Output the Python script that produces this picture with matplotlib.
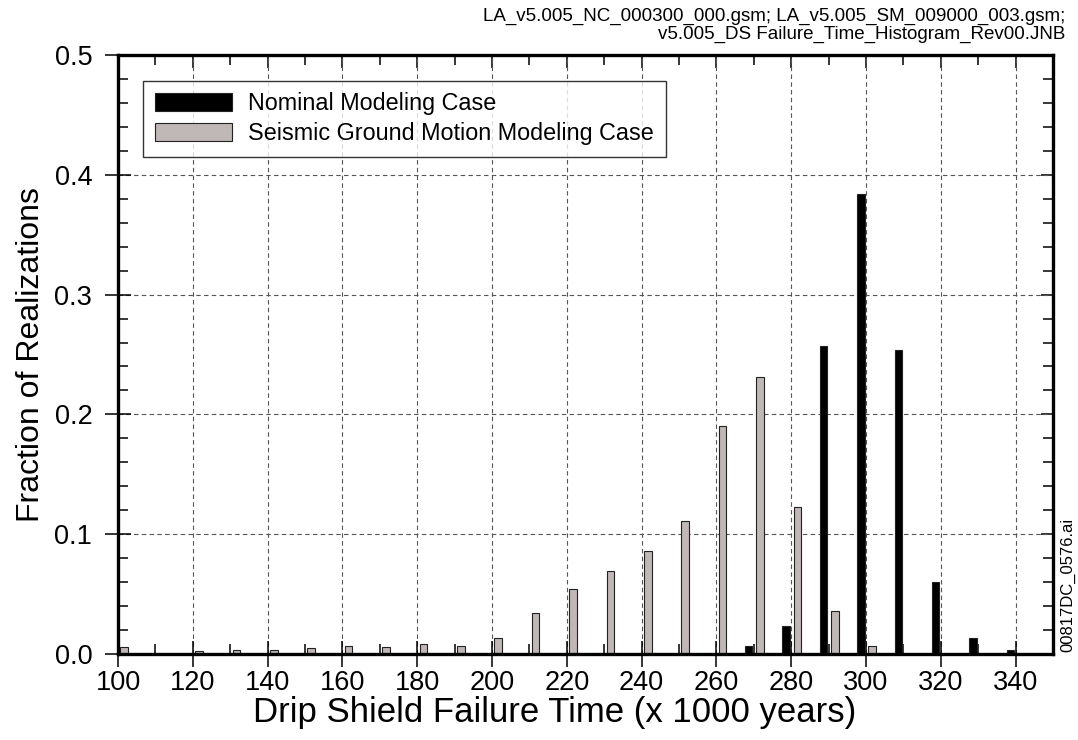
import numpy as np
import matplotlib.pyplot as plt
from matplotlib.ticker import MultipleLocator

plt.rcParams['font.family'] = ['Liberation Sans', 'DejaVu Sans']

# bin positions (x 1000 years) and fraction of realizations per case
nominal_t = [270, 280, 290, 300, 310, 320, 330, 340]
nominal_frac = [0.007, 0.0235, 0.257, 0.384, 0.254, 0.060, 0.013, 0.003]

seismic_t = [100, 110, 120, 130, 140, 150, 160, 170, 180, 190, 200,
             210, 220, 230, 240, 250, 260, 270, 280, 290, 300]
seismic_frac = [0.0056, 0.0, 0.0025, 0.0033, 0.0033, 0.0047, 0.007, 0.0056,
                0.0086, 0.0064, 0.0134, 0.034, 0.0545, 0.0695, 0.086, 0.111,
                0.190, 0.2315, 0.1224, 0.036, 0.007]

grey = '#c0b8b6'

fig = plt.figure(figsize=(10.78, 7.40), dpi=100)
ax = fig.add_axes([0.1095, 0.1162, 0.8673, 0.8095])

ax.bar(np.array(nominal_t) - 1.35, nominal_frac, width=2.0, color='black',
       edgecolor='#222222', linewidth=0.8, label='Nominal Modeling Case', zorder=3)
ax.bar(np.array(seismic_t) + 1.65, seismic_frac, width=2.0, color=grey,
       edgecolor='#222222', linewidth=0.8, label='Seismic Ground Motion Modeling Case', zorder=3)

ax.set_xlim(100, 350)
ax.set_ylim(0, 0.5)
ax.xaxis.set_minor_locator(MultipleLocator(10))
ax.yaxis.set_major_locator(MultipleLocator(0.1))
ax.yaxis.set_minor_locator(MultipleLocator(0.02))
ax.set_xticks(np.arange(100, 341, 20))
ax.yaxis.set_major_formatter(plt.FormatStrFormatter('%.1f'))

ax.grid(True, which='major', linestyle=(0, (4, 3)), color='#555555', linewidth=0.8, zorder=0)

for s in ax.spines.values():
    s.set_linewidth(2.4)
    s.set_zorder(5)

ax.tick_params(which='major', direction='inout', length=19, width=1.1,
               labelsize=19.5, pad=2, top=False, right=False)
ax.tick_params(axis='y', which='major', pad=9)
ax.tick_params(which='minor', direction='in', length=7, width=1.1,
               top=True, right=True)

# inward major ticks on top and right spines
ax_top = ax.secondary_xaxis('top')
ax_top.set_xticks(np.arange(100, 341, 20))
ax_top.tick_params(direction='in', length=9, width=1.1, labeltop=False)
ax_top.spines['top'].set_visible(False)
ax_right = ax.secondary_yaxis('right')
ax_right.set_yticks(np.arange(0, 0.51, 0.1))
ax_right.tick_params(direction='in', length=9, width=1.1, labelright=False)
ax_right.spines['right'].set_visible(False)

ax.set_xlabel('Drip Shield Failure Time (x 1000 years)', fontsize=25, labelpad=0, x=0.467)
ax.set_ylabel('Fraction of Realizations', fontsize=23, labelpad=6)

leg = ax.legend(loc='upper left', bbox_to_anchor=(0.027, 0.957), fontsize=16.8,
                frameon=True, fancybox=False, edgecolor='black',
                handlelength=3.3, handleheight=0.8, handletextpad=0.7,
                borderpad=0.5, labelspacing=0.3, borderaxespad=0)
leg.get_frame().set_linewidth(1.0)
leg.set_zorder(6)

fig.text(0.988, 0.99, 'LA_v5.005_NC_000300_000.gsm; LA_v5.005_SM_009000_003.gsm;\n'
         'v5.005_DS Failure_Time_Histogram_Rev00.JNB',
         ha='right', va='top', fontsize=13.5, linespacing=1.12)
fig.text(0.991, 0.21, '00817DC_0576.ai', rotation=90, ha='center', va='center', fontsize=12)

fig.savefig('out.png', dpi=100)
